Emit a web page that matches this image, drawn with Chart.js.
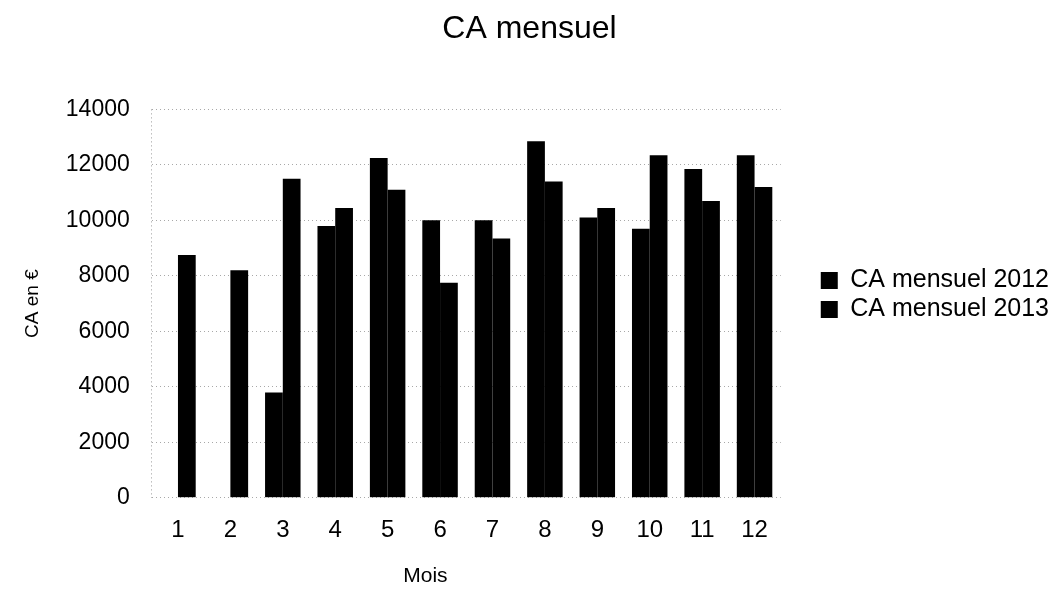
<!DOCTYPE html>
<html>
<head>
<meta charset="utf-8">
<script src="https://cdn.jsdelivr.net/npm/chart.js@4/dist/chart.umd.min.js"></script>
<style>
    html, body { margin: 0; padding: 0; background: #fff; }
    #wrap { width: 1059px; height: 590px; }
</style>
</head>
<body>
<div id="wrap"><canvas id="ca-chart"></canvas></div>
<script>
// CA mensuel : chiffre d'affaires par mois, 2012 vs 2013
const mois = ['1', '2', '3', '4', '5', '6', '7', '8', '9', '10', '11', '12'];
const ca2012 = [null, null, 3800, 9800, 12250, 10000, 10000, 12850, 10100, 9700, 11850, 12350];
const ca2013 = [8750, 8200, 11500, 10450, 11100, 7750, 9350, 11400, 10450, 12350, 10700, 11200];
const yTicks = [0, 2000, 4000, 6000, 8000, 10000, 12000, 14000];

const FONT = '"Liberation Sans", Arial, Helvetica, sans-serif';

const ctx = document.getElementById('ca-chart').getContext('2d');

new Chart(ctx, {
    type: 'bar',
    data: {
        labels: mois,
        datasets: [
            { label: 'CA mensuel 2012', data: ca2012, backgroundColor: '#000', borderWidth: 0 },
            { label: 'CA mensuel 2013', data: ca2013, backgroundColor: '#000', borderWidth: 0 }
        ]
    },
    options: {
        responsive: true,
        maintainAspectRatio: false,
        animation: false,
        layout: { padding: { left: 0, right: 0, top: 0, bottom: 0 } },
        datasets: { bar: { categoryPercentage: 0.677, barPercentage: 1 } },
        plugins: {
            title: {
                display: true,
                text: 'CA mensuel',
                color: '#000',
                font: { family: FONT, size: 32, weight: 'normal' },
                padding: { top: 10, bottom: 61 }
            },
            legend: {
                position: 'right',
                maxWidth: 320,
                labels: {
                    color: '#000',
                    font: { family: FONT, size: 25 },
                    boxWidth: 17,
                    boxHeight: 17,
                    padding: 4
                }
            },
            tooltip: { enabled: false }
        },
        scales: {
            x: {
                grid: {
                    drawTicks: false,
                    color: (c) => c.index === 0 ? '#9a9a9a' : 'transparent'
                },
                border: { display: false, dash: [1, 3] },
                ticks: {
                    color: '#000',
                    font: { family: FONT, size: 24, lineHeight: 1 },
                    padding: 21,
                    maxRotation: 0
                },
                title: {
                    display: true,
                    text: 'Mois\u00a0\u00a0\u00a0\u00a0\u00a0\u00a0\u00a0\u00a0\u00a0\u00a0\u00a0\u00a0\u00a0\u00a0',
                    color: '#000',
                    font: { family: FONT, size: 21 },
                    padding: { top: 0, bottom: 1 }
                }
            },
            y: {
                min: 0,
                max: 14000,
                afterBuildTicks: (scale) => { scale.ticks = yTicks.map(v => ({ value: v })); },
                grid: { drawTicks: false, color: '#a8a8a8', lineWidth: 1 },
                border: { display: false, dash: [1, 3] },
                ticks: {
                    color: '#000',
                    font: { family: FONT, size: 23 },
                    padding: 22,
                    callback: (v) => String(v)
                },
                title: {
                    display: true,
                    text: 'CA en €',
                    color: '#000',
                    font: { family: FONT, size: 19 },
                    padding: { top: 21, bottom: 0 }
                }
            },
            // axe vide à droite : garde l'espace entre le graphique et la légende
            yGap: {
                position: 'right',
                display: true,
                grid: { display: false },
                border: { display: false },
                ticks: { display: false },
                afterFit: (scale) => { scale.width = 36; }
            }
        }
    }
});
</script>
</body>
</html>
